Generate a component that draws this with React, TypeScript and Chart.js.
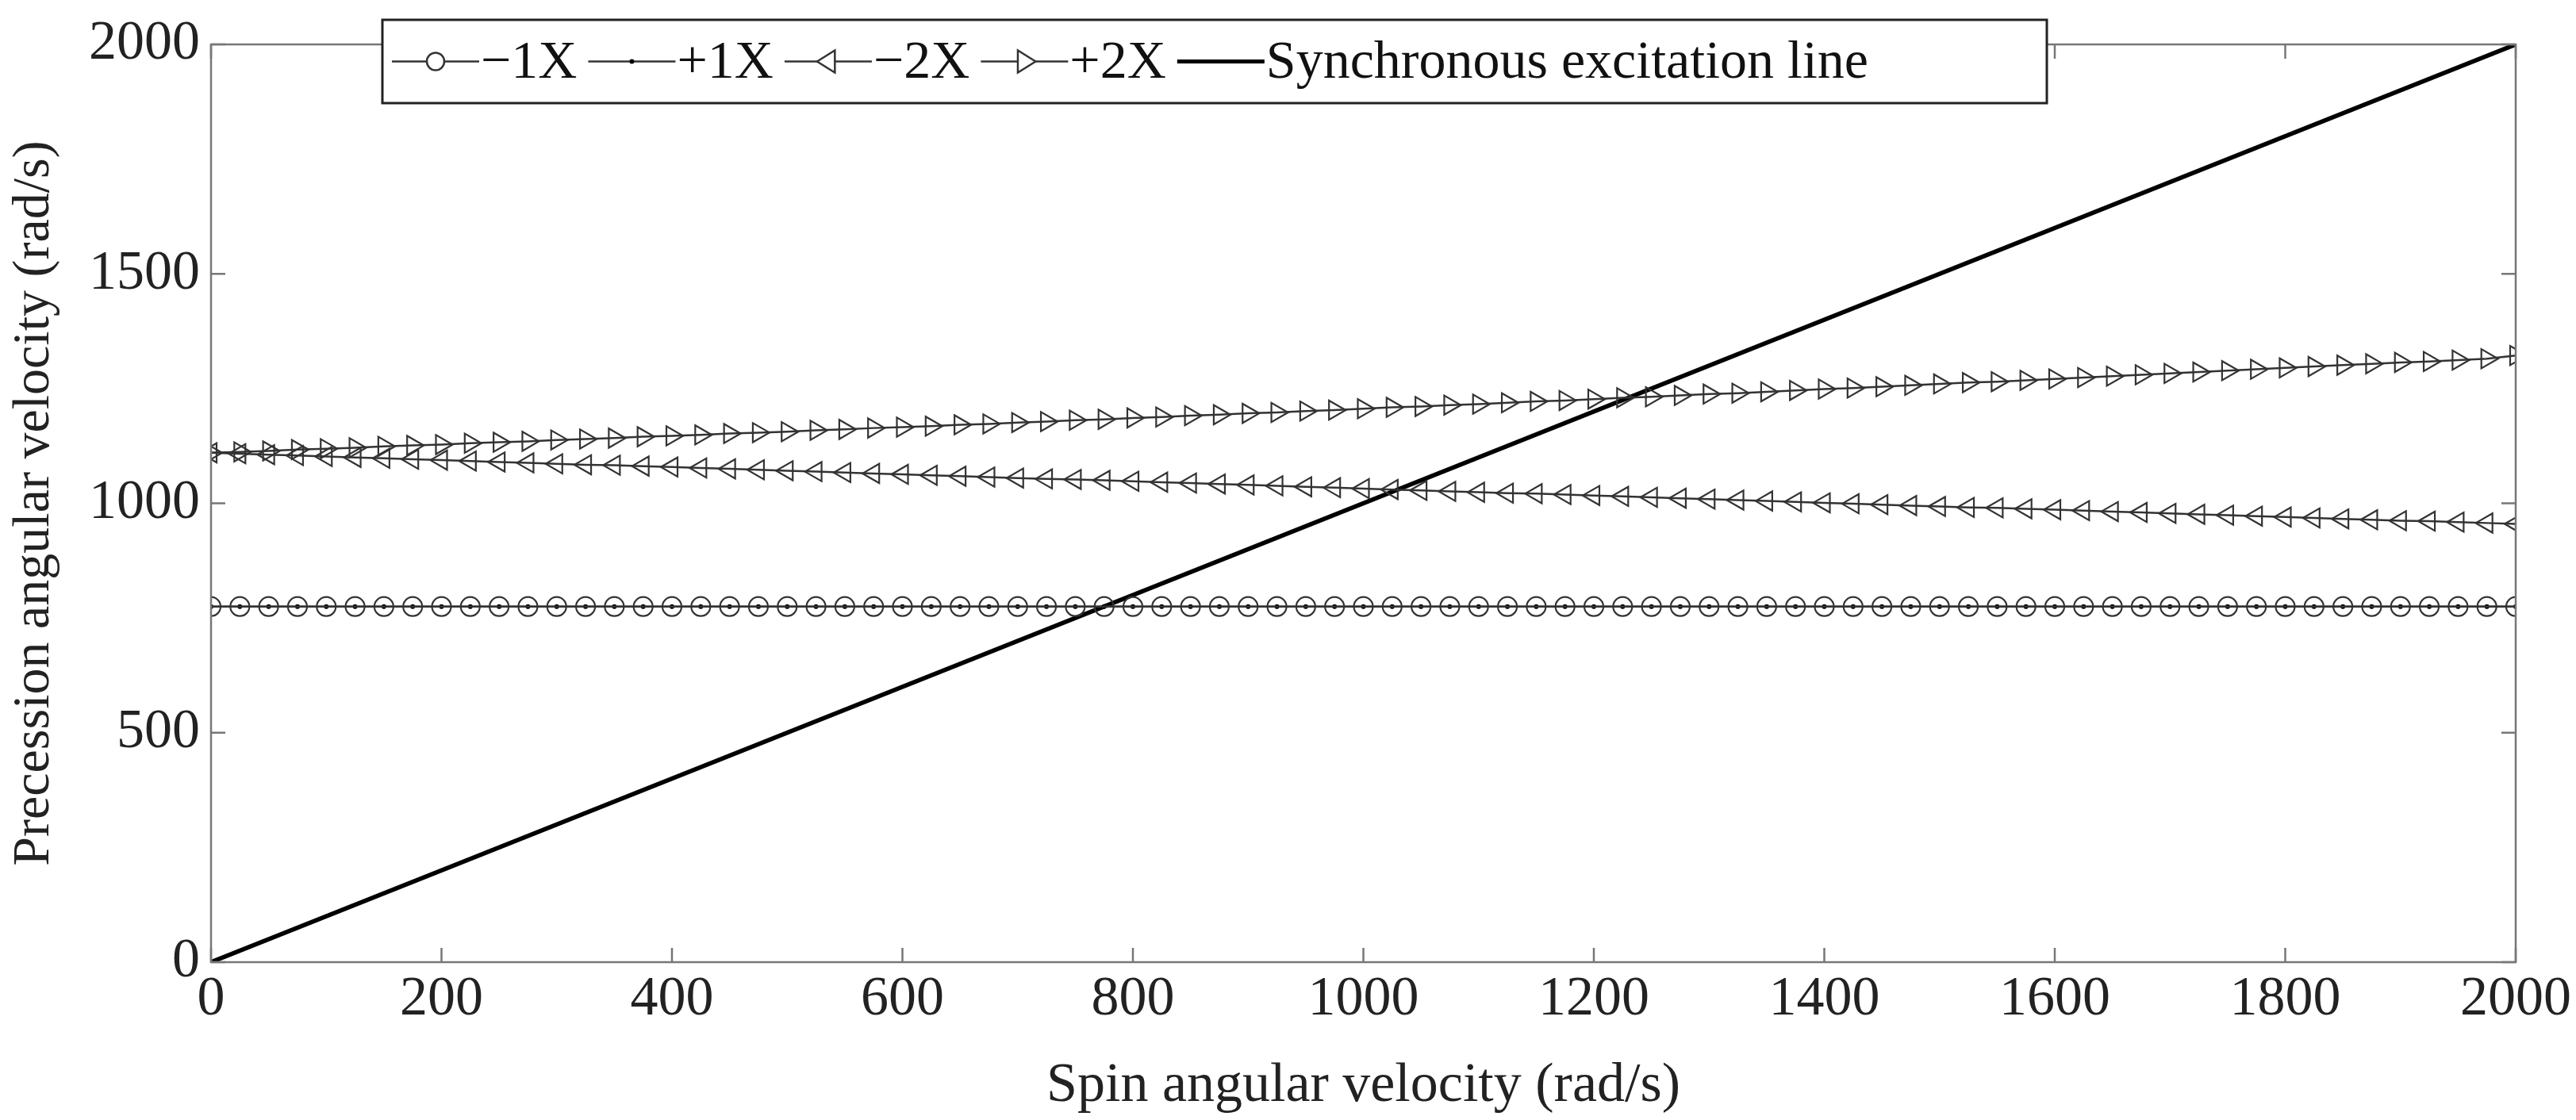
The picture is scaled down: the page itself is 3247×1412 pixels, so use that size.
import React, { useEffect, useRef } from "react";
import { Chart, registerables } from "chart.js";
Chart.register(...registerables);

const spin: number[] = [];
for (let i = 0; i <= 80; i++) spin.push(i * 25);

const minus1X = [775,775,775,775,775,775,775,775,775,775,775,775,775,775,775,775,775,775,775,775,775,775,775,775,775,775,775,775,775,775,775,775,775,775,775,775,775,775,775,775,775,775,775,775,775,775,775,775,775,775,775,775,775,775,775,775,775,775,775,775,775,775,775,775,775,775,775,775,775,775,775,775,775,775,775,775,775,775,775,775,775];
const plus1X = minus1X.slice();
const minus2X = [1110,1108,1106,1104,1102,1100,1098,1096,1094,1092,
1090,1088,1086,1084,1083,1081,1079,1077,1075,1073,
1071,1069,1067,1065,1063,1061,1059,1057,1055,1053,
1052,1050,1048,1046,1044,1042,1040,1038,1036,1034,
1032,1030,1028,1026,1024,1022,1021,1019,1017,1015,
1013,1011,1009,1007,1005,1003,1001,999,997,995,
993,991,990,988,986,984,982,980,978,976,
974,972,970,968,966,964,962,961,959,957,955];
const plus2X = [1110,1112,1114,1117,1119,1121,1124,1126,1128,1131,
1133,1135,1138,1140,1142,1145,1147,1149,1152,1154,
1156,1159,1161,1164,1166,1168,1171,1173,1176,1178,
1181,1183,1186,1188,1191,1193,1196,1198,1201,1203,
1206,1209,1211,1214,1216,1219,1222,1224,1227,1230,
1232,1235,1238,1240,1243,1246,1249,1251,1254,1257,
1260,1263,1265,1268,1271,1274,1277,1280,1283,1286,
1289,1292,1295,1298,1301,1304,1307,1309,1312,1315,1322];
const syncX = [0, 2000];
const syncY = [0, 2000];
const xTicks = [0,200,400,600,800,1000,1200,1400,1600,1800,2000];
const yTicks = [0,500,1000,1500,2000];
const legendLabels = ["\u22121X", "+1X", "\u22122X", "+2X", "Synchronous excitation line"];

const FONT = "'Liberation Serif', 'DejaVu Serif', serif";
const LINE = "#333";

const pts = (ys: number[]) => ys.map((y, i) => ({ x: spin[i], y }));

export default function App() {
  const ref = useRef<HTMLCanvasElement>(null);
  useEffect(() => {
    document.body.style.margin = "0";
    const framePlugin = {
      id: "frame",
      afterDraw(chart: any) {
        const { ctx, chartArea: a, scales } = chart;
        ctx.save();
        ctx.strokeStyle = "#777";
        ctx.lineWidth = 2.5;
        ctx.strokeRect(a.left, a.top, a.right - a.left, a.bottom - a.top);
        const tl = 18;
        xTicks.forEach((v) => {
          const px = scales.x.getPixelForValue(v);
          ctx.beginPath();
          ctx.moveTo(px, a.bottom); ctx.lineTo(px, a.bottom - tl);
          ctx.moveTo(px, a.top); ctx.lineTo(px, a.top + tl);
          ctx.stroke();
        });
        yTicks.forEach((v) => {
          const py = scales.y.getPixelForValue(v);
          ctx.beginPath();
          ctx.moveTo(a.left, py); ctx.lineTo(a.left + tl, py);
          ctx.moveTo(a.right, py); ctx.lineTo(a.right - tl, py);
          ctx.stroke();
        });
        // legend
        const lx = 482, ly = 25, lw = 2098, lh = 105;
        ctx.fillStyle = "#fff";
        ctx.fillRect(lx, ly, lw, lh);
        ctx.strokeStyle = "#222";
        ctx.lineWidth = 3;
        ctx.strokeRect(lx, ly, lw, lh);
        ctx.font = `68px ${FONT}`;
        ctx.textBaseline = "middle";
        const cy = ly + lh / 2;
        let x = lx + 12;
        legendLabels.forEach((lab, i) => {
          const seg = 110;
          ctx.strokeStyle = i === 4 ? "#000" : LINE;
          ctx.lineWidth = i === 4 ? 5 : 2.5;
          ctx.beginPath(); ctx.moveTo(x, cy); ctx.lineTo(x + seg, cy); ctx.stroke();
          const mx = x + seg / 2;
          ctx.lineWidth = 2.5;
          ctx.strokeStyle = LINE;
          if (i === 0) { ctx.beginPath(); ctx.arc(mx, cy, 11, 0, Math.PI * 2); ctx.fillStyle = "#fff"; ctx.fill(); ctx.stroke(); }
          if (i === 1) { ctx.fillStyle = "#000"; ctx.beginPath(); ctx.arc(mx, cy, 3, 0, Math.PI * 2); ctx.fill(); }
          if (i === 2 || i === 3) {
            const d = i === 2 ? -1 : 1; const r = 14;
            ctx.beginPath();
            ctx.moveTo(mx + d * r, cy); ctx.lineTo(mx - d * r * 0.6, cy - r); ctx.lineTo(mx - d * r * 0.6, cy + r); ctx.closePath();
            ctx.fillStyle = "#fff"; ctx.fill(); ctx.stroke();
          }
          x += seg + 2;
          ctx.fillStyle = "#111";
          ctx.fillText(lab, x, cy + 3);
          x += ctx.measureText(lab).width + 14;
        });
        ctx.restore();
      },
    };
    const common = { borderColor: LINE, borderWidth: 2.5, pointBorderColor: LINE, pointBackgroundColor: "rgba(255,255,255,0)", pointBorderWidth: 2.2, showLine: true, tension: 0 };
    const tickCb = (v: any) => String(v);
    const chart = new Chart(ref.current!, {
      type: "scatter",
      data: {
        datasets: [
          { ...common, label: legendLabels[0], data: pts(minus1X), pointStyle: "circle", pointRadius: 12 },
          { ...common, label: legendLabels[1], data: pts(plus1X), pointStyle: "circle", pointRadius: 3, pointBackgroundColor: "#000", pointBorderWidth: 0 },
          { ...common, label: legendLabels[2], data: pts(minus2X), pointStyle: "triangle", pointRotation: -90, pointRadius: 14 },
          { ...common, label: legendLabels[3], data: pts(plus2X), pointStyle: "triangle", pointRotation: 90, pointRadius: 14 },
          { label: legendLabels[4], data: syncX.map((x, i) => ({ x, y: syncY[i] })), showLine: true, borderColor: "#000", borderWidth: 5.5, pointRadius: 0 },
        ] as any,
      },
      options: {
        animation: false,
        responsive: true,
        maintainAspectRatio: false,
        layout: { padding: { top: 50, right: 48, left: 0, bottom: 0 } },
        plugins: { legend: { display: false }, tooltip: { enabled: false } },
        scales: {
          x: {
            type: "linear", min: 0, max: 2000,
            afterBuildTicks: (s: any) => { s.ticks = xTicks.map((v) => ({ value: v })); },
            afterFit: (s: any) => { s.height = 199; },
            grid: { display: false, drawTicks: false },
            border: { display: false },
            ticks: { color: "#222", font: { family: FONT, size: 70 }, padding: 6, maxRotation: 0, callback: tickCb },
            title: { display: true, text: "Spin angular velocity (rad/s)", color: "#222", font: { family: FONT, size: 70 }, padding: { top: 0, bottom: 0 } },
          },
          y: {
            type: "linear", min: 0, max: 2000,
            afterBuildTicks: (s: any) => { s.ticks = yTicks.map((v) => ({ value: v })); },
            afterFit: (s: any) => { s.width = 266; },
            grid: { display: false, drawTicks: false },
            border: { display: false },
            ticks: { color: "#222", font: { family: FONT, size: 70 }, padding: 14, callback: tickCb },
            title: { display: true, text: "Precession angular velocity (rad/s)", color: "#222", font: { family: FONT, size: 66 }, padding: { bottom: 4 } },
          },
        },
      } as any,
      plugins: [framePlugin],
    });
    return () => chart.destroy();
  }, []);
  return (
    <div style={{ position: "fixed", left: 0, top: 0, width: 3247, height: 1412, background: "#fff" }}>
      <canvas ref={ref} />
    </div>
  );
}
